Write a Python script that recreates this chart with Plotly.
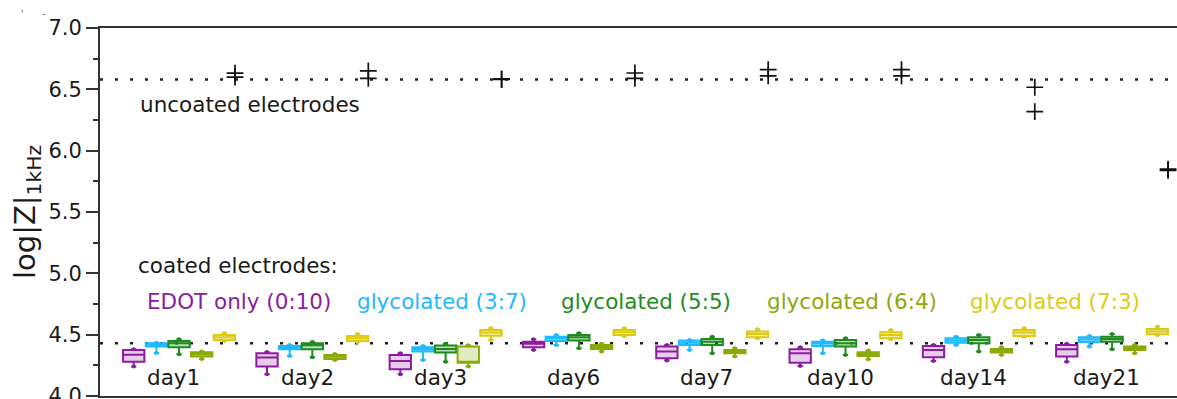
import plotly.graph_objects as go

days = ["day1", "day2", "day3", "day6", "day7", "day10", "day14", "day21"]

series_names = ["EDOT only (0:10)", "glycolated (3:7)", "glycolated (5:5)",
                "glycolated (6:4)", "glycolated (7:3)"]
series_colors = ["#8E1CA0", "#1EB9FF", "#1E8C1E", "#8AAA0A", "#DCCB12"]
series_fills = ["rgba(142,28,160,0.22)", "rgba(30,185,255,0.35)", "rgba(30,140,30,0.3)",
                "rgba(138,170,10,0.25)", "rgba(220,203,18,0.3)"]

# EDOT only (0:10)
edot_lo = [4.240, 4.178, 4.178, 4.376, 4.289, 4.245, 4.286, 4.280]
edot_q1 = [4.280, 4.240, 4.218, 4.398, 4.308, 4.272, 4.316, 4.321]
edot_med = [4.337, 4.313, 4.285, 4.425, 4.362, 4.349, 4.376, 4.381]
edot_q3 = [4.376, 4.349, 4.335, 4.443, 4.403, 4.381, 4.408, 4.416]
edot_hi = [4.381, 4.359, 4.349, 4.463, 4.416, 4.398, 4.416, 4.425]

# glycolated (3:7)
g37_lo = [4.350, 4.327, 4.294, 4.416, 4.376, 4.349, 4.416, 4.403]
g37_q1 = [4.403, 4.381, 4.362, 4.449, 4.416, 4.408, 4.435, 4.441]
g37_med = [4.416, 4.395, 4.381, 4.468, 4.435, 4.427, 4.452, 4.460]
g37_q3 = [4.430, 4.408, 4.398, 4.484, 4.452, 4.443, 4.471, 4.479]
g37_hi = [4.435, 4.416, 4.408, 4.498, 4.457, 4.452, 4.484, 4.490]

# glycolated (5:5)
g55_lo = [4.341, 4.316, 4.280, 4.390, 4.349, 4.335, 4.362, 4.381]
g55_q1 = [4.398, 4.381, 4.354, 4.452, 4.416, 4.403, 4.430, 4.443]
g55_med = [4.430, 4.414, 4.384, 4.479, 4.443, 4.430, 4.457, 4.465]
g55_q3 = [4.449, 4.430, 4.411, 4.498, 4.465, 4.457, 4.479, 4.484]
g55_hi = [4.463, 4.441, 4.425, 4.512, 4.484, 4.471, 4.498, 4.506]

# glycolated (6:4)
g64_lo = [4.302, 4.294, 4.240, 4.362, 4.321, 4.300, 4.335, 4.349]
g64_q1 = [4.321, 4.302, 4.272, 4.384, 4.349, 4.327, 4.354, 4.376]
g64_med = [4.341, 4.319, 4.280, 4.400, 4.362, 4.343, 4.370, 4.390]
g64_q3 = [4.357, 4.335, 4.403, 4.416, 4.376, 4.357, 4.384, 4.403]
g64_hi = [4.362, 4.343, 4.414, 4.425, 4.390, 4.370, 4.398, 4.416]

# glycolated (7:3)
g73_lo = [4.449, 4.441, 4.457, 4.490, 4.471, 4.463, 4.484, 4.498]
g73_q1 = [4.457, 4.449, 4.492, 4.498, 4.479, 4.471, 4.490, 4.503]
g73_med = [4.479, 4.471, 4.517, 4.520, 4.506, 4.498, 4.517, 4.525]
g73_q3 = [4.498, 4.490, 4.539, 4.539, 4.525, 4.520, 4.539, 4.547]
g73_hi = [4.512, 4.506, 4.553, 4.553, 4.544, 4.539, 4.553, 4.566]

# uncoated electrodes (two electrodes per day)
uncoated_a = [6.632, 6.650, 6.580, 6.633, 6.660, 6.660, 6.517, 5.850]
uncoated_b = [6.600, 6.590, 6.585, 6.590, 6.610, 6.610, 6.318, 5.840]

uncoated_ref = 6.58
coated_ref = 4.43

y_ticks = [4.0, 4.5, 5.0, 5.5, 6.0, 6.5, 7.0]

stats = [
    (edot_lo, edot_q1, edot_med, edot_q3, edot_hi),
    (g37_lo, g37_q1, g37_med, g37_q3, g37_hi),
    (g55_lo, g55_q1, g55_med, g55_q3, g55_hi),
    (g64_lo, g64_q1, g64_med, g64_q3, g64_hi),
    (g73_lo, g73_q1, g73_med, g73_q3, g73_hi),
]

FONT = "DejaVu Sans"
TXT = "#1a1a1a"
TS = 21.5
step = 0.17
box_w = 0.16
day_idx = list(range(len(days)))

fig = go.Figure()

for j, (lo, q1, med, q3, hi) in enumerate(stats):
    xs = [i + (j - 2) * step for i in day_idx]
    fig.add_trace(go.Box(
        x=xs, q1=q1, median=med, q3=q3, lowerfence=lo, upperfence=hi,
        width=box_w, whiskerwidth=0.25, boxpoints=False,
        line=dict(color=series_colors[j], width=2),
        fillcolor=series_fills[j], showlegend=False, name=series_names[j],
    ))
    fig.add_trace(go.Scatter(
        x=xs + xs, y=lo + hi, mode="markers",
        marker=dict(color=series_colors[j], size=4),
        showlegend=False, hoverinfo="skip",
    ))

ux = [i + 0.42 for i in day_idx]
fig.add_trace(go.Scatter(
    x=ux + ux, y=uncoated_a + uncoated_b, mode="markers",
    marker=dict(symbol="cross-thin", size=12, line=dict(color="#111", width=1.7)),
    showlegend=False,
))

for yref_val in (uncoated_ref, coated_ref):
    fig.add_shape(type="line", xref="paper", x0=0, x1=1, yref="y",
                  y0=yref_val, y1=yref_val,
                  line=dict(color="#222", width=2.5, dash="3px,12px"), layer="below")

annotations = []
for i, d in enumerate(days):
    annotations.append(dict(x=i - 0.04, y=4.15, xref="x", yref="y", text=d,
                            showarrow=False, font=dict(family=FONT, size=TS, color=TXT),
                            xanchor="center", yanchor="middle"))

annotations.append(dict(x=(138 - 100) / 1077, y=6.38, xref="paper", yref="y",
                        text="uncoated electrodes", showarrow=False,
                        font=dict(family=FONT, size=TS, color=TXT),
                        xanchor="left", yanchor="middle"))
annotations.append(dict(x=(136 - 100) / 1077, y=5.06, xref="paper", yref="y",
                        text="coated electrodes:", showarrow=False,
                        font=dict(family=FONT, size=TS, color=TXT),
                        xanchor="left", yanchor="middle"))
label_px = [145, 355, 559, 765, 968]
for j, nm in enumerate(series_names):
    annotations.append(dict(x=(label_px[j] - 100) / 1077, y=4.77, xref="paper", yref="y",
                            text=nm, showarrow=False,
                            font=dict(family=FONT, size=TS, color=series_colors[j]),
                            xanchor="left", yanchor="middle"))
# clipped remnants of text at top-left corner
annotations.append(dict(x=(22 - 100) / 1077, y=1 + (28 - 14) / 368, xref="paper", yref="paper",
                        text="'", showarrow=False, font=dict(family=FONT, size=9, color="#444"),
                        xanchor="center", yanchor="middle"))
annotations.append(dict(x=(43 - 100) / 1077, y=1 + (28 - 14) / 368, xref="paper", yref="paper",
                        text="-", showarrow=False, font=dict(family=FONT, size=9, color="#444"),
                        xanchor="center", yanchor="middle"))

fig.update_layout(
    width=1177, height=399, autosize=False,
    margin=dict(l=100, r=0, t=28, b=3, autoexpand=False),
    paper_bgcolor="white", plot_bgcolor="white",
    boxmode="overlay",
    annotations=annotations,
    font=dict(family=FONT, color=TXT),
)

fig.update_xaxes(
    range=[-0.593, 7.487], showticklabels=False, ticks="",
    showline=True, mirror=True, linecolor="#333", linewidth=2,
    showgrid=False, zeroline=False, automargin=False,
)
fig.update_yaxes(
    range=[4.0, 7.0], tickvals=y_ticks, tickformat=".1f",
    ticks="outside", ticklen=12, tickwidth=1.5, tickcolor="#333",
    minor=dict(dtick=0.25, ticks="outside", ticklen=5, tickwidth=1.5, tickcolor="#333"),
    tickfont=dict(family=FONT, size=21, color=TXT),
    ticklabeloverflow="allow", automargin=False,
    showline=True, linecolor="#333", linewidth=2,
    showgrid=False, zeroline=False,
    title=dict(text="log|Z|<sub>1kHz</sub>", font=dict(family=FONT, size=29, color=TXT),
               standoff=4),
)

fig.write_html(
    "out.html",
    config={"displayModeBar": False},
    post_script="document.body.style.margin='0';document.body.style.overflow='hidden';",
)
